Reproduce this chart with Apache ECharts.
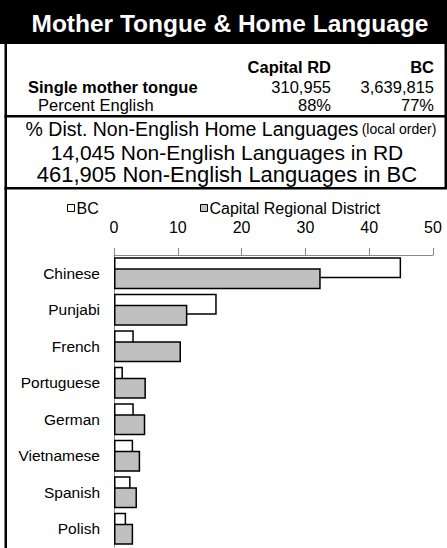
<!DOCTYPE html>
<html>
<head>
<meta charset="utf-8">
<script src="https://cdn.jsdelivr.net/npm/echarts@6/dist/echarts.min.js"></script>
<style>
    html, body { margin: 0; padding: 0; background: #fff; }
    #chart { width: 447px; height: 548px; }
</style>
</head>
<body>
<div id="chart"></div>
<script>
// languages, local order (top to bottom)
const languages = ['Chinese', 'Punjabi', 'French', 'Portuguese', 'German', 'Vietnamese', 'Spanish', 'Polish']
// % of non-English home languages
const bcShare = [45.0, 16.1, 3.1, 1.4, 3.1, 3.0, 2.6, 1.9]
const crdShare = [32.4, 11.5, 10.5, 5.0, 4.9, 4.1, 3.6, 3.0]
const xTicks = [0, 10, 20, 30, 40, 50]

// header table
const tableCols = ['Capital RD', 'BC']
const singleMother = ['310,955', '3,639,815']
const pctEnglish = ['88%', '77%']
const infoLines = ['14,045 Non-English Languages in RD', '461,905 Non-English Languages in BC']

const FONT = '"Liberation Sans", Arial, sans-serif'
const colX = [331, 434]

function txt(text, x, y, size, opt = {}) {
    return {
        type: 'text',
        z: 10,
        style: {
            text: text,
            x: x,
            y: y,
            align: opt.align || 'left',
            verticalAlign: 'middle',
            fill: opt.color || '#000',
            font: (opt.bold ? 'bold ' : '') + size + 'px ' + FONT
        }
    }
}

const graphics = [
    // title band
    { type: 'rect', z: 1, shape: { x: 0, y: 0, width: 447, height: 44 }, style: { fill: '#000' } },
    // frame
    { type: 'rect', z: 1, shape: { x: 4.5, y: 44, width: 2.5, height: 504 }, style: { fill: '#000' } },
    { type: 'rect', z: 1, shape: { x: 444.5, y: 44, width: 2.5, height: 145 }, style: { fill: '#000' } },
    { type: 'rect', z: 1, shape: { x: 4.5, y: 115, width: 442.5, height: 2.5 }, style: { fill: '#000' } },
    { type: 'rect', z: 1, shape: { x: 4.5, y: 187, width: 442.5, height: 2.5 }, style: { fill: '#000' } },

    txt('Mother Tongue & Home Language', 230, 23, 24.5, { bold: true, color: '#fff', align: 'center' }),
    txt('Single mother tongue', 28, 87, 16.5, { bold: true }),
    txt('Percent English', 38, 105, 16.5),
    {
        type: 'text',
        z: 10,
        style: {
            text: '{a|% Dist. Non-English Home Languages} {b|(local order)}',
            x: 231,
            y: 129,
            align: 'center',
            verticalAlign: 'middle',
            rich: {
                a: { fontSize: 19.5, fontFamily: FONT, fill: '#000' },
                b: { fontSize: 14, fontFamily: FONT, fill: '#000' }
            }
        }
    }
]
tableCols.forEach((c, i) => graphics.push(txt(c, colX[i], 67, 16.5, { bold: true, align: 'right' })))
singleMother.forEach((c, i) => graphics.push(txt(c, colX[i], 87, 16.5, { align: 'right' })))
pctEnglish.forEach((c, i) => graphics.push(txt(c, colX[i], 105, 16.5, { align: 'right' })))
graphics.push(txt(infoLines[0], 227, 152, 21, { align: 'center' }))
graphics.push(txt(infoLines[1], 227, 174, 22, { align: 'center' }))

const chart = echarts.init(document.getElementById('chart'), null, { renderer: 'svg' })
chart.setOption({
    animation: false,
    textStyle: { fontFamily: FONT },
    graphic: graphics,
    legend: [{
        data: ['BC'],
        left: 62,
        top: 195,
        itemWidth: 7,
        itemHeight: 7,
        icon: 'rect',
        itemStyle: { borderWidth: 1 },
        textStyle: { fontSize: 16, color: '#000', padding: [0, 0, 0, -3] }
    }, {
        data: ['Capital Regional District'],
        left: 195,
        top: 195,
        itemWidth: 7,
        itemHeight: 7,
        icon: 'rect',
        itemStyle: { borderWidth: 1 },
        textStyle: { fontSize: 16, color: '#000', padding: [0, 0, 0, -3] }
    }],
    grid: {
        left: 114,
        right: 14,
        top: 255,
        height: 292
    },
    xAxis: {
        type: 'value',
        position: 'top',
        min: xTicks[0],
        max: xTicks[xTicks.length - 1],
        interval: 10,
        axisLine: { show: true, lineStyle: { color: '#888', width: 1 } },
        axisTick: { show: true, length: 7, lineStyle: { color: '#888' } },
        axisLabel: { fontSize: 16, color: '#000', margin: 20 },
        splitLine: { show: false }
    },
    yAxis: {
        type: 'category',
        inverse: true,
        data: languages,
        axisLine: { show: true, lineStyle: { color: '#888', width: 1 } },
        axisTick: { show: false },
        axisLabel: { fontSize: 15.5, color: '#000', margin: 14 }
    },
    series: [
        {
            name: 'BC',
            type: 'bar',
            data: bcShare,
            barWidth: 21,
            barGap: '-48%',
            itemStyle: { color: '#fff', borderColor: '#000', borderWidth: 1.5 }
        },
        {
            name: 'Capital Regional District',
            type: 'bar',
            data: crdShare,
            barWidth: 21,
            itemStyle: { color: '#c0c0c0', borderColor: '#000', borderWidth: 1.5 }
        }
    ]
})
</script>
</body>
</html>
